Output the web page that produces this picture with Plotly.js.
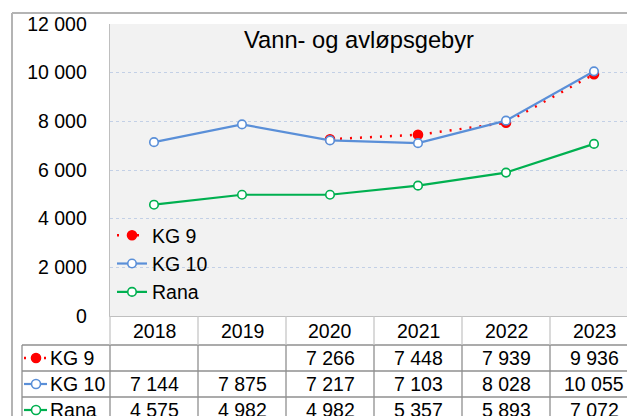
<!DOCTYPE html>
<html>
<head>
<meta charset="utf-8">
<script src="https://cdn.plot.ly/plotly-3.0.1.min.js"></script>
<style>html,body{margin:0;padding:0;background:#fff;}#chart{width:627px;height:416px;}</style>
</head>
<body>
<div id="chart"></div>
<script>
// ---- data ----
const years = ['2018', '2019', '2020', '2021', '2022', '2023'];
const seriesNames = ['KG 9', 'KG 10', 'Rana'];
const kg9 = [null, null, 7266, 7448, 7939, 9936];
const kg10 = [7144, 7875, 7217, 7103, 8028, 10055];
const rana = [4575, 4982, 4982, 5357, 5893, 7072];
const titleText = 'Vann- og avløpsgebyr';

// ---- layout geometry (pixels) ----
const W = 627, Hh = 416;
const PL = 110, PR = 627, PT = 24, PB = 316;
const pw = PR - PL, ph = PB - PT;
const px = x => (x - PL) / pw;
const py = y => (PB - y) / ph;
const FONT = 'Liberation Sans, Arial, sans-serif';
const FS = 19.5;
const rowY = [358, 384, 410];
const headerY = 331;

const styles = [
  {color: '#ff0000', dash: '2px,8px', width: 2.5, fill: '#ff0000', msize: 9},
  {color: '#5a8fd8', dash: 'solid', width: 2.2, fill: '#ffffff', msize: 8.5},
  {color: '#00b050', dash: 'solid', width: 2.2, fill: '#ffffff', msize: 8.5}
];
const allSeries = [kg9, kg10, rana];
const idx = years.map((_, i) => i);

const traces = allSeries.map((vals, k) => ({
  type: 'scatter', mode: 'lines+markers', name: seriesNames[k],
  x: idx, y: vals, connectgaps: false,
  line: {color: styles[k].color, width: styles[k].width, dash: styles[k].dash},
  marker: {symbol: 'circle', size: styles[k].msize, color: styles[k].fill,
           line: {color: styles[k].color, width: 1.6}},
  hoverinfo: 'skip'
}));

const fmt = v => (v === null ? '' : String(v).replace(/\B(?=(\d{3})+(?!\d))/g, ' '));

const annotations = [];
const shapes = [];
const gridDark = '#8f8f8f', gridLight = '#c6c6c6';

// header row (years)
years.forEach((yr, i) => annotations.push({xref: 'x', yref: 'paper', x: i, y: 0,
  yshift: -(headerY - PB), xanchor: 'center', yanchor: 'middle', text: yr, showarrow: false,
  font: {family: FONT, size: FS, color: '#000'}}));

// table cells
allSeries.forEach((vals, k) => {
  vals.forEach((v, i) => {
    if (v === null) return;
    annotations.push({xref: 'x', yref: 'paper', x: i, y: 0, yshift: -(rowY[k] - PB),
      xanchor: 'center', yanchor: 'middle', text: fmt(v), showarrow: false,
      font: {family: FONT, size: FS, color: '#000'}});
  });
  // legend key in table
  annotations.push({xref: 'paper', yref: 'paper', x: px(48), y: py(rowY[k]),
    xanchor: 'left', yanchor: 'middle', text: seriesNames[k], showarrow: false,
    font: {family: FONT, size: FS, color: '#000'}});
  shapes.push({type: 'line', xref: 'paper', yref: 'paper', x0: px(24), x1: px(47),
    y0: py(rowY[k]), y1: py(rowY[k]),
    line: {color: styles[k].color, width: styles[k].width, dash: styles[k].dash}});
  shapes.push({type: 'circle', xref: 'paper', yref: 'paper', xsizemode: 'pixel', ysizemode: 'pixel',
    xanchor: px(36), yanchor: py(rowY[k]), x0: -4.5, x1: 4.5, y0: -4.5, y1: 4.5,
    fillcolor: styles[k].fill, line: {color: styles[k].color, width: 1.6}});
});

// table horizontal lines
[345, 371, 397].forEach(y => shapes.push({type: 'line', xref: 'paper', yref: 'paper',
  x0: px(22), x1: px(700), y0: py(y), y1: py(y), line: {color: gridDark, width: 1.3}}));
// table vertical lines at category boundaries
idx.forEach(i => {
  shapes.push({type: 'line', xref: 'x', yref: 'paper', x0: i + 0.5, x1: i + 0.5,
    y0: py(PB), y1: py(345), line: {color: gridLight, width: 1.3}});
  shapes.push({type: 'line', xref: 'x', yref: 'paper', x0: i + 0.5, x1: i + 0.5,
    y0: py(345), y1: py(440), line: {color: gridDark, width: 1.3}});
});
// left table lines
shapes.push({type: 'line', xref: 'paper', yref: 'paper', x0: px(22), x1: px(22),
  y0: py(345), y1: py(440), line: {color: gridDark, width: 1.3}});
shapes.push({type: 'line', xref: 'paper', yref: 'paper', x0: 0, x1: 0,
  y0: py(PB), y1: py(345), line: {color: gridLight, width: 1.3}});
shapes.push({type: 'line', xref: 'paper', yref: 'paper', x0: 0, x1: 0,
  y0: py(345), y1: py(440), line: {color: gridDark, width: 1.3}});
// outer chart border
shapes.push({type: 'line', xref: 'paper', yref: 'paper', x0: px(12), x1: px(12),
  y0: py(13), y1: py(440), line: {color: '#b4b4b4', width: 2}});
shapes.push({type: 'line', xref: 'paper', yref: 'paper', x0: px(12), x1: px(700),
  y0: py(13), y1: py(13), line: {color: '#b4b4b4', width: 2}});

const layout = {
  width: W, height: Hh,
  margin: {l: PL, r: W - PR, t: PT, b: Hh - PB, pad: 0},
  paper_bgcolor: '#ffffff', plot_bgcolor: '#f2f2f2',
  font: {family: FONT, size: FS, color: '#000'},
  separators: ', ',
  title: {text: titleText, font: {family: FONT, size: 23.7, color: '#000'},
    xref: 'container', yref: 'container', x: 359 / W, xanchor: 'center',
    y: 1 - 40 / Hh, yanchor: 'middle'},
  showlegend: true,
  legend: {x: px(112), y: py(216), xanchor: 'left', yanchor: 'top',
    bgcolor: 'rgba(0,0,0,0)', borderwidth: 0, itemwidth: 30,
    font: {family: FONT, size: FS, color: '#000'}},
  xaxis: {range: [-0.5, -0.5 + pw / 88], tickvals: idx, ticktext: years,
    showticklabels: false,
    showgrid: false, zeroline: false, showline: true, linecolor: '#bfbfbf', linewidth: 1.3,
    ticks: '', fixedrange: true},
  yaxis: {range: [0, 12000], dtick: 2000, tick0: 0, tickformat: ',d',
    showgrid: true, gridcolor: '#c3d0e6', griddash: 'dot', gridwidth: 1,
    zeroline: false, showline: true, linecolor: '#bfbfbf', linewidth: 1.3,
    ticks: '', ticklabelstandoff: 18, tickfont: {family: FONT, size: FS, color: '#000'},
    fixedrange: true},
  annotations: annotations,
  shapes: shapes
};

Plotly.newPlot('chart', traces, layout, {staticPlot: true, displayModeBar: false});
</script>
</body>
</html>
